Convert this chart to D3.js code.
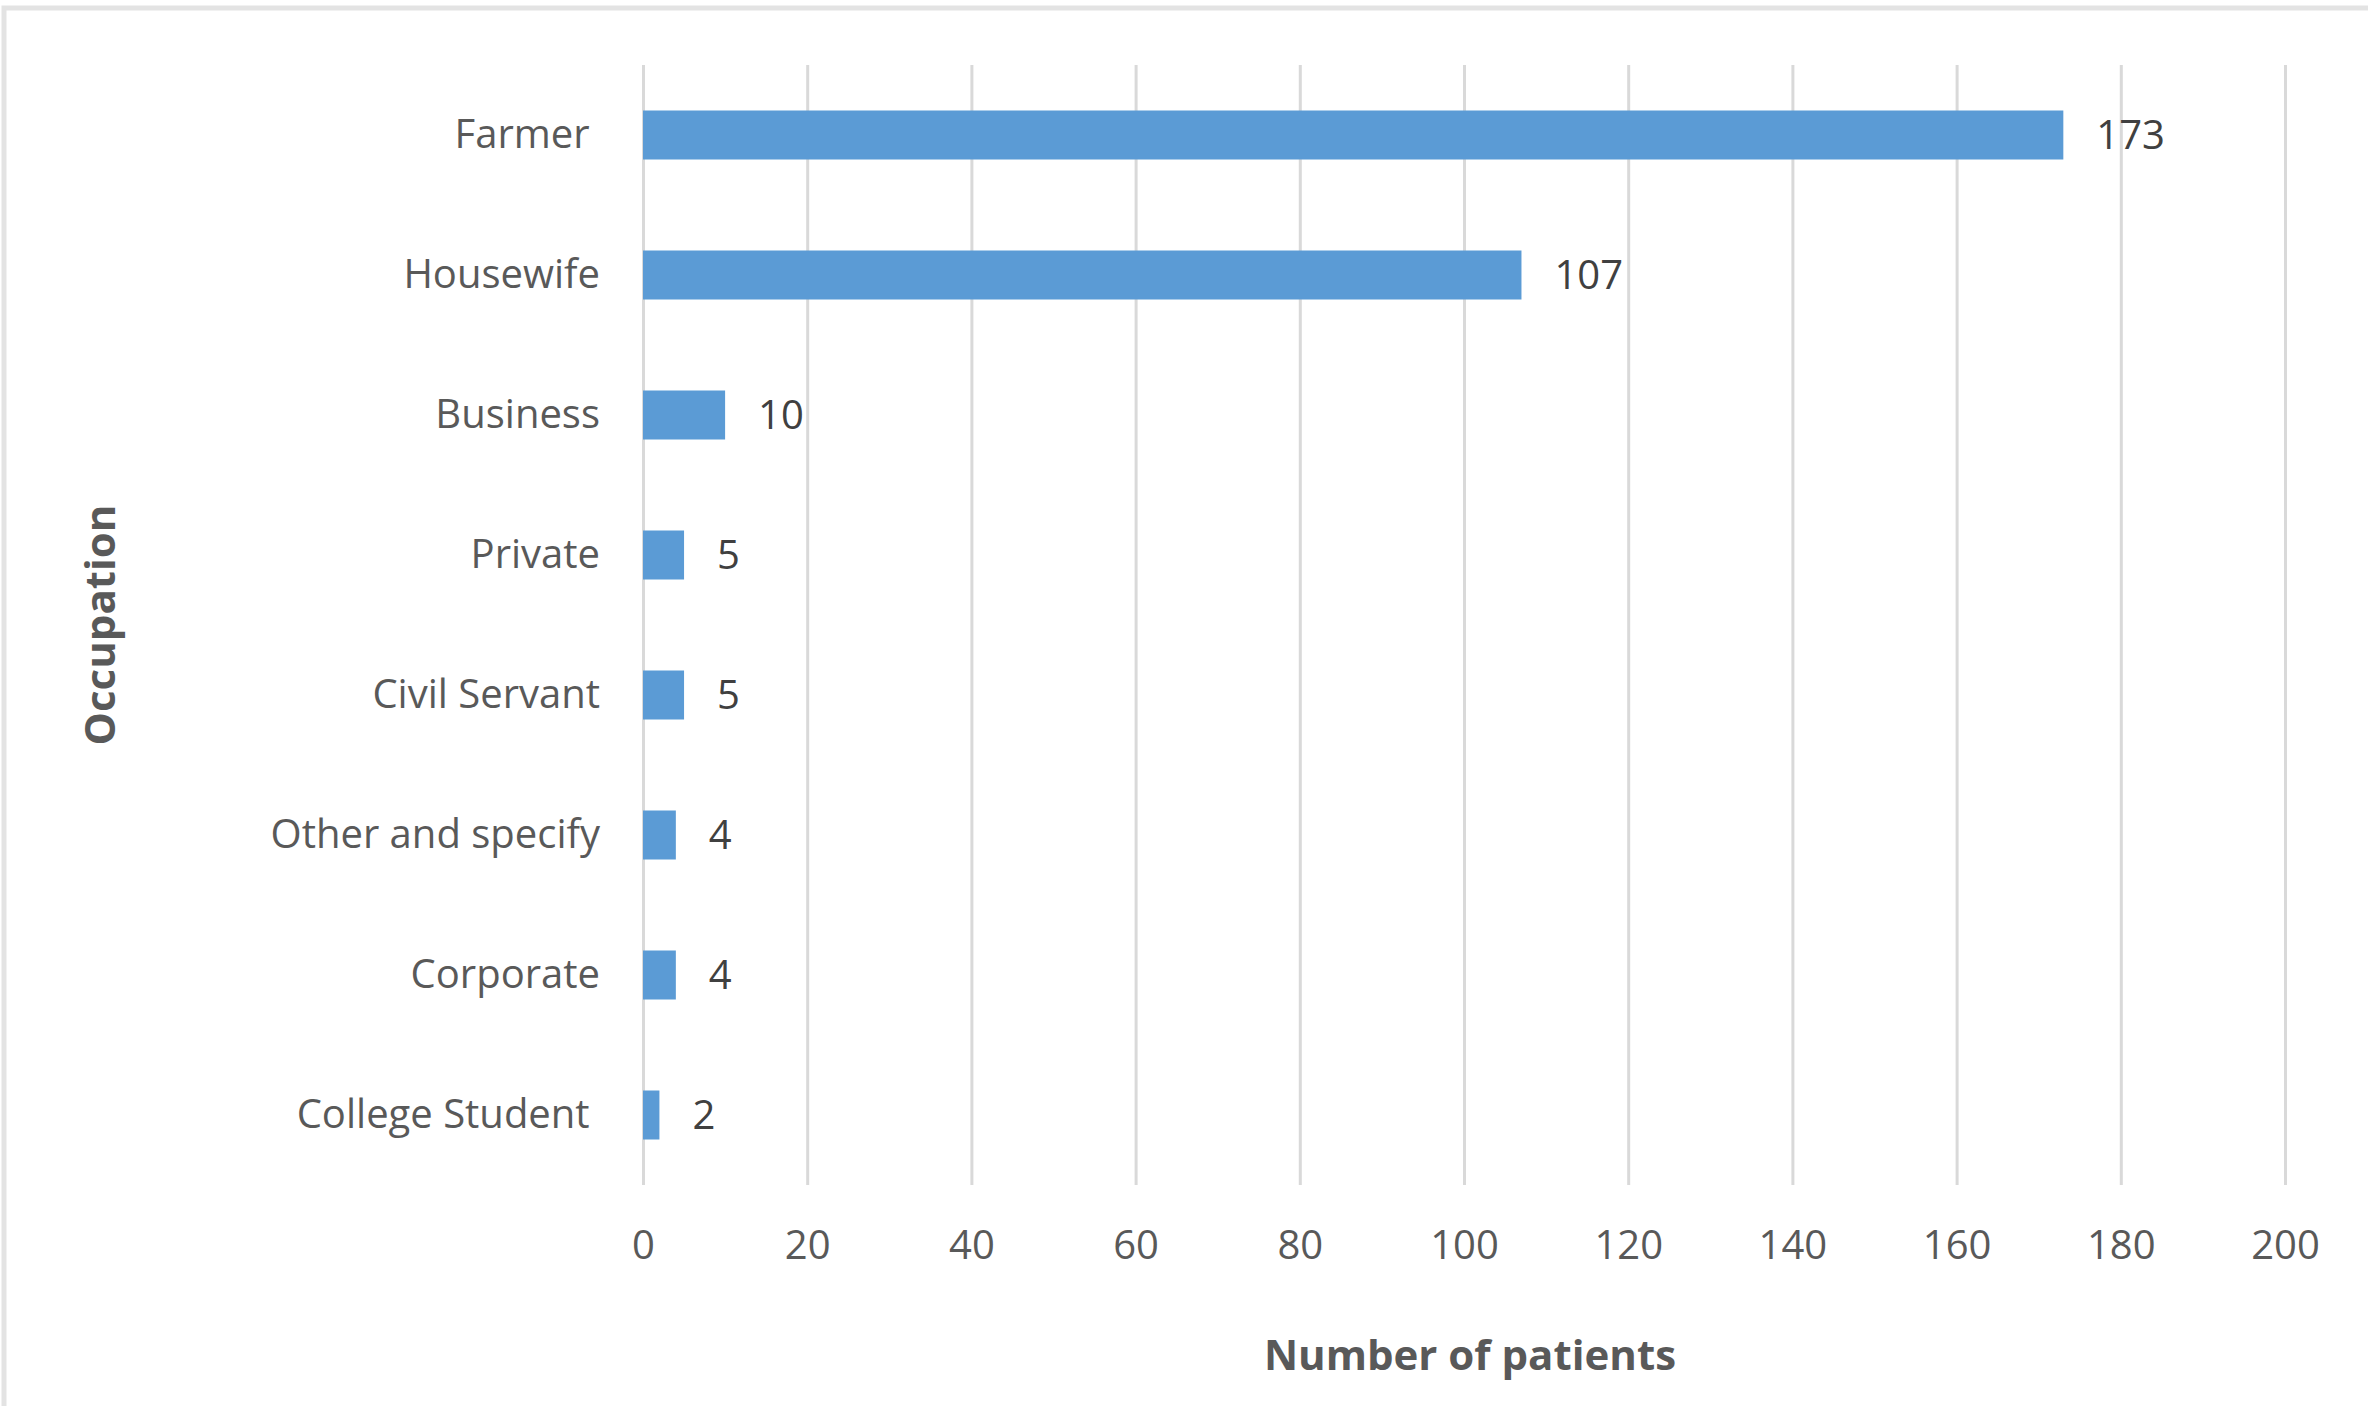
<!DOCTYPE html>
<html>
<head>
<meta charset="utf-8">
<script src="https://cdn.jsdelivr.net/npm/d3@7"></script>
<style>
  html, body { margin: 0; padding: 0; background: #ffffff; }
  svg text { font-family: "Open Sans", "Noto Sans", sans-serif; white-space: pre; }
</style>
</head>
<body>
<svg id="chart" width="2368" height="1406"></svg>
<script>
// Data
const categories = ["Farmer ", "Housewife", "Business", "Private", "Civil Servant", "Other and specify", "Corporate", "College Student "];
const values = [173, 107, 10, 5, 5, 4, 4, 2];
const xTicks = [0, 20, 40, 60, 80, 100, 120, 140, 160, 180, 200];
const xTitle = "Number of patients";
const yTitle = "Occupation";

const svg = d3.select("#chart");
const plotLeft = 643, plotRight = 2285, plotTop = 65, plotBottom = 1185;

// outer frame
svg.append("rect")
  .attr("x", 4).attr("y", 8).attr("width", 2380).attr("height", 1420)
  .attr("fill", "none").attr("stroke", "#e3e3e3").attr("stroke-width", 5);

const x = d3.scaleLinear().domain([0, 200]).range([plotLeft, plotRight]);
const y = d3.scaleBand().domain(categories).range([plotTop, plotBottom]).paddingInner(0.65).paddingOuter(0.325);

// gridlines
const grid = svg.append("g").attr("transform", `translate(0,${plotBottom})`)
  .call(d3.axisBottom(x).tickValues(xTicks).tickSize(-(plotBottom - plotTop)).tickFormat(""));
grid.select(".domain").remove();
grid.selectAll("line").attr("stroke", "#d9d9d9").attr("stroke-width", 3);

// bars
svg.append("g").selectAll("rect")
  .data(values)
  .join("rect")
  .attr("x", x(0))
  .attr("y", (d, i) => y(categories[i]))
  .attr("width", d => x(d) - x(0))
  .attr("height", y.bandwidth())
  .attr("fill", "#5b9bd5");

// value labels
svg.append("g").selectAll("text")
  .data(values)
  .join("text")
  .attr("x", d => x(d) + 33)
  .attr("y", (d, i) => y(categories[i]) + y.bandwidth() / 2)
  .attr("dy", "0.36em")
  .attr("font-size", 40)
  .attr("fill", "#404040")
  .text(d => d);

// x axis tick labels
const xa = svg.append("g").attr("transform", `translate(0,${plotBottom})`)
  .call(d3.axisBottom(x).tickValues(xTicks).tickSize(0).tickPadding(46));
xa.select(".domain").remove();
xa.attr("font-family", null).attr("font-size", null);
xa.selectAll("text").attr("font-size", 40).attr("fill", "#595959");

// y axis labels
const ya = svg.append("g").attr("transform", `translate(${plotLeft},0)`)
  .call(d3.axisLeft(y).tickSize(0).tickPadding(43));
ya.select(".domain").remove();
ya.attr("font-family", null).attr("font-size", null);
ya.selectAll("text").attr("font-size", 40).attr("fill", "#595959");

// axis titles
svg.append("text")
  .attr("x", (plotLeft + plotRight) / 2 + 6).attr("y", 1355)
  .attr("dy", "0.36em")
  .attr("text-anchor", "middle")
  .attr("font-size", 42).attr("font-weight", "bold").attr("fill", "#595959")
  .text(xTitle);

svg.append("text")
  .attr("transform", `translate(100,${(plotTop + plotBottom) / 2}) rotate(-90)`)
  .attr("dy", "0.36em")
  .attr("text-anchor", "middle")
  .attr("font-size", 42).attr("font-weight", "bold").attr("fill", "#595959")
  .text(yTitle);
</script>
</body>
</html>
